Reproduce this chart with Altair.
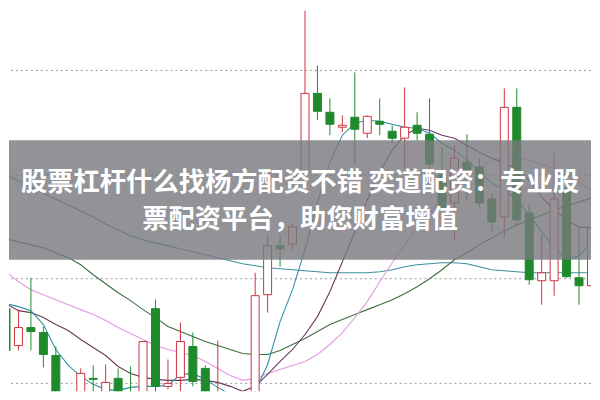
import altair as alt
import pandas as pd

day = list(range(48))
open_ = [91, 54, 72, 67, 44, -20, -10, 21, -5, 21, 5, -10, 91, 13, 22, 53, 31, 3, 3, -20, -10, 105, 154, 156,
         227, 307, 288, 273, 283, 267, 279, 269, 262, 275, 266, 225, 197, 238, 233, 201, 183, 293, 187, 119,
         119, 210, 122, 114]
close = [49, 72, 68, 45, -2, -10, 26, 20, 17, -5, -5, 58, 13, 16, 58, 18, -5, 4, -5, -30, 104, 154, 151, 173,
         307, 289, 276, 275, 271, 284, 276, 262, 273, 267, 236, 192, 242, 230, 197, 178, 293, 180, 120, 127,
         201, 123, 114, 172]
high = [108, 90, 122, 73, 53, 7, 31, 34, 35, 31, 33, 58, 100, 40, 77, 67, 34, 59, 5, -10, 127, 165, 165, 177,
        390, 335, 302, 285, 328, 285, 302, 275, 313, 288, 302, 253, 255, 266, 242, 207, 312, 312, 195, 165,
        247, 220, 173, 173]
low = [18, 49, 49, 32, -5, -30, -15, 8, -10, -10, -10, -15, 7, 10, 8, 13, -10, -5, -10, -40, -15, 87, 133, 150,
       225, 280, 265, 268, 237, 262, 265, 257, 230, 260, 230, 180, 160, 200, 193, 168, 162, 175, 115, 95,
       104, 122, 95, 82]

ma5 = [96, 93, 89, 75, 50, 34, 23, 15, 10, 9, 12, 13, 13, 14, 25, 26, 20, 12, 5, -2, 8, 35, 78, 110, 150, 198,
       238, 265, 277, 280, 279, 276, 273, 272, 267, 257, 250, 240, 228, 217, 210, 200, 185, 168, 152, 140, 144, 158]
ma10 = [96, 89, 87, 82, 75, 69, 60, 52, 44, 33, 26, 22, 20, 19, 19, 20, 19, 17, 13, 8, 13, 25, 38, 50, 65, 83,
        108, 138, 168, 200, 228, 250, 265, 272, 270, 265, 262, 255, 248, 242, 237, 231, 220, 203, 190, 180, 173, 172]
ma20 = [128, 118, 110, 105, 100, 95, 90, 85, 79, 72, 66, 60, 54, 50, 47, 44, 38, 31, 24, 19, 21, 26, 30, 34, 38,
        45, 55, 67, 82, 98, 118, 137, 155, 172, 187, 200, 210, 222, 232, 240, 243, 243, 240, 236, 232, 225, 217, 210]
ma30 = [161, 158, 155, 152, 147, 142, 135, 125, 116, 107, 99, 90, 82, 73, 68, 63, 58, 54, 50, 46, 45, 45, 49, 55,
        61, 68, 75, 80, 85, 90, 95, 100, 106, 113, 121, 130, 140, 147, 155, 162, 169, 175, 180, 185, 190, 194, 198, 202]
ma60 = [225, 219, 213, 207, 201, 195, 189, 183, 176, 170, 164, 160, 157, 154, 151, 148, 145, 142, 139, 136, 134,
        132, 131, 130, 129, 128, 127, 127, 127, 127, 128, 130, 133, 135, 136, 137, 137, 136, 133, 130, 129, 128,
        127, 127, 127, 127, 127, 127]

grid_levels = [330, 225, 121, 16]
title_lines = ["股票杠杆什么找杨方配资不错 奕道配资：专业股", "票配资平台，助您财富增值"]

RED = "#cc3340"
GREEN = "#1f8a2c"

df = pd.DataFrame({"day": day, "open": open_, "close": close, "high": high, "low": low,
                   "ma5": ma5, "ma10": ma10, "ma20": ma20, "ma30": ma30, "ma60": ma60})

xs = alt.Scale(domain=[0.24, 46.96], nice=False, zero=False, padding=0)
ys = alt.Scale(domain=[8, 392], nice=False, zero=False, padding=0)
X = alt.X("day:Q", scale=xs, axis=None)

base = alt.Chart(df)
up = "datum.close >= datum.open"

grid = alt.Chart(pd.DataFrame({"level": grid_levels})).mark_rule(
    color="#9a9a9a", strokeDash=[2, 3], strokeWidth=1
).encode(y=alt.Y("level:Q", scale=ys, axis=None))

def ma_line(col, color, width=1.1):
    return base.mark_line(color=color, strokeWidth=width, clip=True).encode(
        x=X, y=alt.Y(f"{col}:Q", scale=ys, axis=None))

lines = [
    ma_line("ma60", "#3f8f9e"),
    ma_line("ma30", "#3d6e3d"),
    ma_line("ma20", "#e39be3"),
    ma_line("ma10", "#6a3a5c"),
    ma_line("ma5", "#2e93a3"),
]

wicks = base.mark_rule(strokeWidth=1, clip=True).encode(
    x=X,
    y=alt.Y("low:Q", scale=ys, axis=None),
    y2="high:Q",
    color=alt.condition(up, alt.value(RED), alt.value(GREEN)),
)
bodies = base.mark_bar(size=8, strokeWidth=1, clip=True).encode(
    x=X,
    y=alt.Y("open:Q", scale=ys, axis=None),
    y2="close:Q",
    fill=alt.condition(up, alt.value("white"), alt.value(GREEN)),
    stroke=alt.condition(up, alt.value(RED), alt.value(GREEN)),
)

one = pd.DataFrame({"k": [0]})
banner = alt.Chart(one).mark_rect(color="#78787d", opacity=0.8).encode(
    x=alt.value(0), x2=alt.value(584), y=alt.value(132), y2=alt.value(252))

t1 = alt.Chart(pd.DataFrame({"t": [title_lines[0]]})).mark_text(
    font="Noto Sans CJK SC", fontSize=26.4, fontWeight="bold", color="white",
    align="center", baseline="middle").encode(text="t:N", x=alt.value(292), y=alt.value(175))
t2 = alt.Chart(pd.DataFrame({"t": [title_lines[1]]})).mark_text(
    font="Noto Sans CJK SC", fontSize=26.4, fontWeight="bold", color="white",
    align="center", baseline="middle").encode(text="t:N", x=alt.value(292), y=alt.value(212))

chart = alt.layer(grid, *lines, wicks, bodies, banner, t1, t2).properties(
    width=584, height=384, padding=0, background="white"
).configure_view(stroke=None)

chart.save("out.html", embed_options={"renderer": "svg", "actions": False})
